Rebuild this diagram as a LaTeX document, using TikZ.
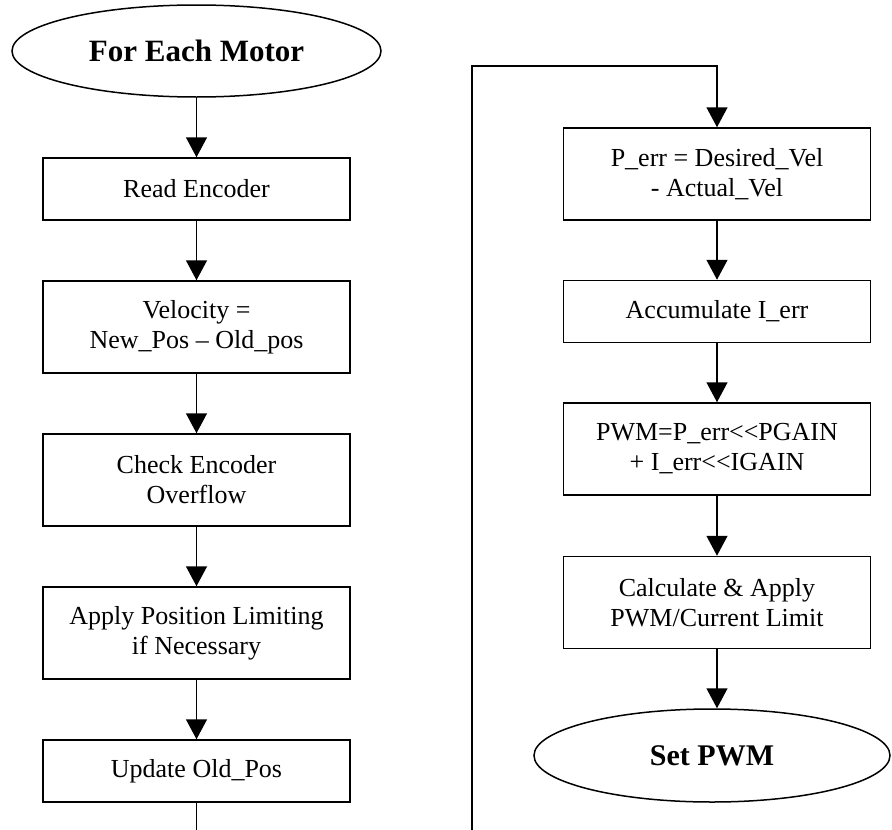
\documentclass[tikz,border=0pt]{standalone}
\usepackage{fontspec}
\setmainfont{Liberation Serif}
\usetikzlibrary{shapes.geometric,arrows.meta}
\begin{document}
\begin{tikzpicture}[x=1pt,y=-1pt,
  box/.style={draw,line width=1.5pt,minimum width=307pt,inner sep=2pt,align=center,font=\fontsize{26}{30}\selectfont},
  oval/.style={draw,ellipse,line width=1.5pt,inner sep=0pt,align=center,font=\fontsize{31}{36}\selectfont\bfseries},
  arr/.style={line width=1.5pt,-{Triangle[width=21pt,length=20pt]}},
  ln/.style={line width=1.5pt}]
\useasboundingbox (0,0) rectangle (892,830);
% left column
\node[oval,minimum width=369pt,minimum height=92pt] (start) at (196.5,51) {For Each Motor};
\node[box,minimum height=62pt] (read) at (196.5,189) {Read Encoder};
\node[box,minimum height=92pt] (vel) at (196.5,327) {Velocity =\\New\_Pos – Old\_pos};
\node[box,minimum height=92pt] (chk) at (196.5,480) {Check Encoder\\Overflow};
\node[box,minimum height=92pt] (lim) at (196.5,633) {Apply Position Limiting\\if Necessary};
\node[box,minimum height=62pt] (upd) at (196.5,771) {Update Old\_Pos};
\coordinate (leftend) at (196.5,830);
\draw[arr] (start) -- (read);
\draw[arr] (read) -- (vel);
\draw[arr] (vel) -- (chk);
\draw[arr] (chk) -- (lim);
\draw[arr] (lim) -- (upd);
\draw[ln] (upd) -- (leftend);
% right column
\coordinate (loopbot) at (472,830);
\coordinate (looptop) at (472,66);
\node[box,minimum height=92pt] (perr) at (717,174) {P\_err = Desired\_Vel\\- Actual\_Vel};
\node[box,minimum height=62pt] (acc) at (717,311.5) {Accumulate I\_err};
\node[box,minimum height=92pt] (pwm) at (717,449) {PWM=P\_err<\kern0pt<PGAIN\\+ I\_err<\kern0pt<IGAIN};
\node[box,minimum height=92pt] (calc) at (717,602.5) {Calculate \& Apply\\PWM/Current Limit};
\node[oval,minimum width=356pt,minimum height=93pt,font=\fontsize{30}{36}\selectfont\bfseries] (set) at (712,755.5) {Set PWM};
\draw[arr] (loopbot) -- (looptop) -| (perr.north);
\draw[arr] (perr) -- (acc);
\draw[arr] (acc) -- (pwm);
\draw[arr] (pwm) -- (calc);
\draw[arr] (calc.south) -- (calc.south |- set.north);
\end{tikzpicture}
\end{document}
